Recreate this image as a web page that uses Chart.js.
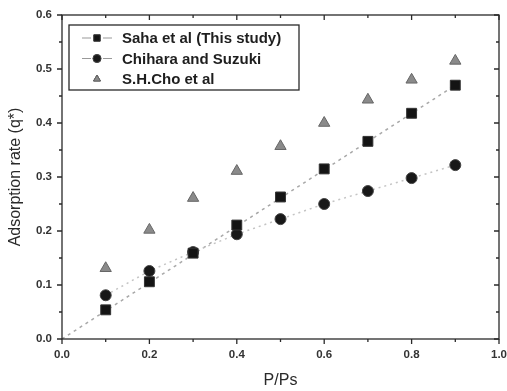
<!DOCTYPE html>
<html>
<head>
<meta charset="utf-8">
<script src="https://cdn.jsdelivr.net/npm/chart.js@4/dist/chart.umd.min.js"></script>
<style>
  html, body { margin: 0; padding: 0; background: #fff; }
  #wrap { width: 507px; height: 391px; }
</style>
</head>
<body>
<div id="wrap"><canvas id="adsChart" width="507" height="391"></canvas></div>
<script>
// Adsorption rate vs relative pressure

const pressure = [0.1, 0.2, 0.3, 0.4, 0.5, 0.6, 0.7, 0.8, 0.9];
const sahaValues = [0.054, 0.106, 0.159, 0.211, 0.263, 0.315, 0.366, 0.418, 0.470];
const chiharaValues = [0.081, 0.126, 0.161, 0.194, 0.222, 0.250, 0.274, 0.298, 0.322];
const choValues = [0.131, 0.202, 0.261, 0.311, 0.357, 0.400, 0.443, 0.480, 0.515];
// dotted fit line through the Saha points
const fitX = [0, 0.9];
const fitY = [0, 0.470];
const xTicks = [0, 0.2, 0.4, 0.6, 0.8, 1.0];
const yTicks = [0, 0.1, 0.2, 0.3, 0.4, 0.5, 0.6];
const seriesNames = ["Saha et al (This study)", "Chihara and Suzuki", "S.H.Cho et al"];

const toPoints = (xs, ys) => xs.map((x, i) => ({ x: x, y: ys[i] }));

const FONT = "'Liberation Sans', Arial, sans-serif";
const INK = "#2a2a2a";

// ticks on all four sides: outward on bottom/left, inward on top/right
const frameTicks = {
  id: "frameTicks",
  afterDraw(chart) {
    const { ctx, chartArea: a, scales } = chart;
    const xs = scales.x, ys = scales.y;
    ctx.save();
    ctx.strokeStyle = INK;
    ctx.lineWidth = 1.3;
    ctx.strokeRect(a.left, a.top, a.right - a.left, a.bottom - a.top);
    ctx.beginPath();
    for (let i = 0; i <= 10; i++) {
      const px = xs.getPixelForValue(i / 10);
      const major = i % 2 === 0;
      ctx.moveTo(px, a.bottom);
      ctx.lineTo(px, a.bottom + (major ? 5 : 3));
      ctx.moveTo(px, a.top);
      ctx.lineTo(px, a.top + (major ? 5 : 3));
    }
    for (let i = 0; i <= 12; i++) {
      const py = ys.getPixelForValue(i * 0.05);
      const major = i % 2 === 0;
      ctx.moveTo(a.left, py);
      ctx.lineTo(a.left - (major ? 5 : 3), py);
      ctx.moveTo(a.right, py);
      ctx.lineTo(a.right - (major ? 5 : 3), py);
    }
    ctx.stroke();
    ctx.restore();
  }
};

// boxed legend in the upper left corner
const boxLegend = {
  id: "boxLegend",
  afterDraw(chart) {
    const { ctx } = chart;
    const bx = 69, by = 25, bw = 230, bh = 65;
    ctx.save();
    ctx.fillStyle = "#fff";
    ctx.fillRect(bx, by, bw, bh);
    ctx.strokeStyle = INK;
    ctx.lineWidth = 1.3;
    ctx.strokeRect(bx, by, bw, bh);
    const rows = [38, 58.5, 79];
    const sets = chart.data.datasets.slice(0, 3);
    sets.forEach((ds, i) => {
      const y = rows[i];
      if (i < 2) {
        ctx.strokeStyle = "#999";
        ctx.lineWidth = 1;
        ctx.beginPath();
        ctx.moveTo(82, y); ctx.lineTo(91, y);
        ctx.moveTo(103, y); ctx.lineTo(112, y);
        ctx.stroke();
      }
      Chart.helpers.drawPoint(ctx, {
        pointStyle: ds.pointStyle,
        radius: i === 0 ? 4.5 : 4,
        borderWidth: 1
      }, 97, y);
      ctx.fillStyle = ds.backgroundColor;
      ctx.strokeStyle = ds.pointBorderColor;
      ctx.fill();
      ctx.stroke();
      ctx.fillStyle = "#1e1e1e";
      ctx.font = "bold 15px " + FONT;
      ctx.textBaseline = "middle";
      ctx.fillText(seriesNames[i], 122, y + 1);
    });
    ctx.restore();
  }
};

const ctx = document.getElementById("adsChart");

new Chart(ctx, {
  type: "scatter",
  data: {
    datasets: [
      {
        label: seriesNames[0],
        data: toPoints(pressure, sahaValues),
        pointStyle: "rect",
        pointRadius: 7,
        backgroundColor: "#141414",
        pointBorderColor: "#333",
        borderColor: "#333",
        borderWidth: 1,
        showLine: false,
        order: 1,
      },
      {
        label: seriesNames[1],
        data: toPoints(pressure, chiharaValues),
        pointStyle: "circle",
        pointRadius: 5.5,
        backgroundColor: "#181818",
        pointBorderColor: "#444",
        pointBorderWidth: 1,
        borderColor: "#c4c4c4",
        borderWidth: 1.5,
        showLine: true,
        borderDash: [2, 4],
        order: 1,
      },
      {
        label: seriesNames[2],
        data: toPoints(pressure, choValues),
        pointStyle: "triangle",
        pointRadius: 6.5,
        backgroundColor: "#8a8a8a",
        pointBorderColor: "#666",
        borderColor: "#666",
        borderWidth: 1,
        showLine: false,
        order: 1,
      },
      {
        label: "fit",
        data: toPoints(fitX, fitY),
        pointRadius: 0,
        showLine: true,
        borderColor: "#a8a8a8",
        borderWidth: 1.5,
        borderDash: [3, 4],
        order: 2,
      },
    ],
  },
  options: {
    responsive: false,
    animation: false,
    devicePixelRatio: 1,
    layout: { padding: { left: 0, right: 7, top: 15, bottom: 0 } },
    plugins: {
      legend: { display: false },
      tooltip: { enabled: false },
    },
    elements: {
      line: { tension: 0 },
    },
    scales: {
      x: {
        type: "linear",
        min: 0,
        max: 1,
        afterBuildTicks: (s) => { s.ticks = xTicks.map((v) => ({ value: v })); },
        afterFit: (s) => { s.height = 52; s.paddingLeft = 0; s.paddingRight = 0; },
        grid: { display: false, drawTicks: false },
        border: { display: false },
        ticks: {
          padding: 9,
          color: "#333",
          font: { family: FONT, size: 11.5, weight: "bold" },
          callback: (v) => Number(v).toFixed(1),
          maxRotation: 0,
        },
        title: {
          display: true,
          text: "P/Ps",
          color: "#2a2a2a",
          font: { family: FONT, size: 16 },
          padding: { top: 0, bottom: 1 },
        },
      },
      y: {
        type: "linear",
        min: 0,
        max: 0.6,
        afterBuildTicks: (s) => { s.ticks = yTicks.map((v) => ({ value: v })); },
        afterFit: (s) => { s.width = 62; s.paddingTop = 0; s.paddingBottom = 0; },
        grid: { display: false, drawTicks: false },
        border: { display: false },
        ticks: {
          padding: 10,
          color: "#333",
          font: { family: FONT, size: 11.5, weight: "bold" },
          callback: (v) => Number(v).toFixed(1),
        },
        title: {
          display: true,
          text: "Adsorption rate (q*)",
          color: "#2a2a2a",
          font: { family: FONT, size: 16 },
          padding: { top: 6, bottom: 0 },
        },
      },
    },
  },
  plugins: [frameTicks, boxLegend],
});
</script>
</body>
</html>
